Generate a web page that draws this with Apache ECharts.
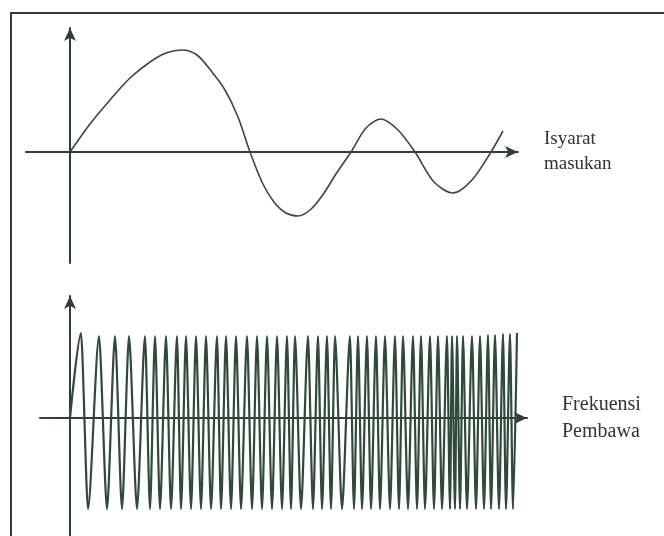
<!DOCTYPE html>
<html>
<head>
<meta charset="utf-8">
<script src="https://cdn.jsdelivr.net/npm/echarts@6/dist/echarts.min.js"></script>
<style>
html,body{margin:0;padding:0;background:#fff;}
#chart{width:664px;height:536px;}
</style>
</head>
<body>
<div id="chart"></div>
<script>
// Input signal (top panel): time vs amplitude (origin at axis crossing)
const signalX = [0, 20, 40, 60, 80, 96, 112, 127, 142, 155, 168, 180, 192, 204, 216, 228, 240, 252, 266, 281,
  296, 311, 328, 345, 364, 383, 402, 421, 433];
const signalY = [0, 28, 52, 74, 90, 99, 102, 97, 80, 62, 35, 0, -30, -50, -61, -64, -58, -44, -22, 0,
  24, 33, 22, 0, -30, -41, -28, 0, 21];

// Carrier (bottom panel): positions of peaks and troughs
const carrierPeakX = [11, 29, 45, 59, 75, 85, 96, 107, 116, 126, 136, 147, 156, 166, 177, 187, 197, 207, 217, 225,
  238, 248, 257, 265, 280, 288, 297, 306, 315, 325, 333, 343, 351, 360, 368, 377, 382, 387, 393, 402,
  410, 418, 425, 433, 440, 447];
const carrierTroughX = [18, 37, 52, 67, 80, 90, 101, 111, 121, 131, 141, 151, 161, 171, 182, 192, 202, 212, 221, 231,
  243, 252, 261, 272, 284, 292, 301, 310, 320, 329, 338, 347, 355, 364, 372, 380, 385, 390, 397, 406,
  414, 421, 429, 436, 443];
const carrierPeakY = [85, 82, 82, 82, 82, 82, 82, 82, 82, 82, 82, 82, 82, 82, 82, 82, 82, 82, 82, 82,
  82, 82, 82, 82, 82, 82, 82, 82, 82, 82, 82, 82, 82, 82, 82, 82, 82, 82, 82, 82,
  82, 83, 83, 84, 84, 85];
const carrierTroughY = -91;

const labelTop = 'Isyarat\nmasukan';
const labelBottom = 'Frekuensi\nPembawa';

const signalData = signalX.map((x, i) => [x, signalY[i]]);
const carrierData = [[0, 0]];
for (let i = 0; i < carrierPeakX.length; i++) {
  carrierData.push([carrierPeakX[i], carrierPeakY[i]]);
  if (i < carrierTroughX.length) carrierData.push([carrierTroughX[i], carrierTroughY]);
}

const axisColor = '#2f3f38';
function axisBase(extra) {
  return Object.assign({
    type: 'value',
    axisLine: { show: true, onZero: true, symbol: ['none', 'arrow'], symbolSize: [9, 13],
      lineStyle: { color: axisColor, width: 2 } },
    axisTick: { show: false },
    axisLabel: { show: false },
    splitLine: { show: false }
  }, extra);
}

const chart = echarts.init(document.getElementById('chart'));
chart.setOption({
  backgroundColor: '#ffffff',
  animation: false,
  graphic: [{
    type: 'rect', shape: { x: 11, y: 13, width: 720, height: 620 },
    style: { fill: 'none', stroke: '#3a3a3a', lineWidth: 2 }, silent: true
  }],
  grid: [
    { left: 26, right: 146, top: 28, bottom: 273 },
    { left: 40, right: 137, top: 296, bottom: 0 }
  ],
  xAxis: [
    axisBase({ gridIndex: 0, min: -44, max: 448, name: labelTop, nameLocation: 'end', nameGap: 26,
      nameTextStyle: { fontFamily: 'Liberation Serif', fontSize: 19, color: '#333', lineHeight: 25,
        align: 'left', verticalAlign: 'middle', padding: [0, 0, 29, 0] } }),
    axisBase({ gridIndex: 1, min: -30, max: 457, name: labelBottom, nameLocation: 'end', nameGap: 35,
      nameTextStyle: { fontFamily: 'Liberation Serif', fontSize: 20, color: '#333', lineHeight: 27,
        align: 'left', verticalAlign: 'middle', padding: [0, 0, 3, 0] } })
  ],
  yAxis: [
    axisBase({ gridIndex: 0, min: -111, max: 124 }),
    axisBase({ gridIndex: 1, min: -118, max: 122 })
  ],
  series: [
    { type: 'line', xAxisIndex: 0, yAxisIndex: 0, data: signalData, symbol: 'none', smooth: 0.3,
      lineStyle: { color: '#3b4641', width: 1.6 } },
    { type: 'line', xAxisIndex: 1, yAxisIndex: 1, data: carrierData, symbol: 'none', smooth: 0.25,
      smoothMonotone: 'x', lineStyle: { color: '#2f4a3c', width: 2.2 } }
  ]
});
</script>
</body>
</html>
